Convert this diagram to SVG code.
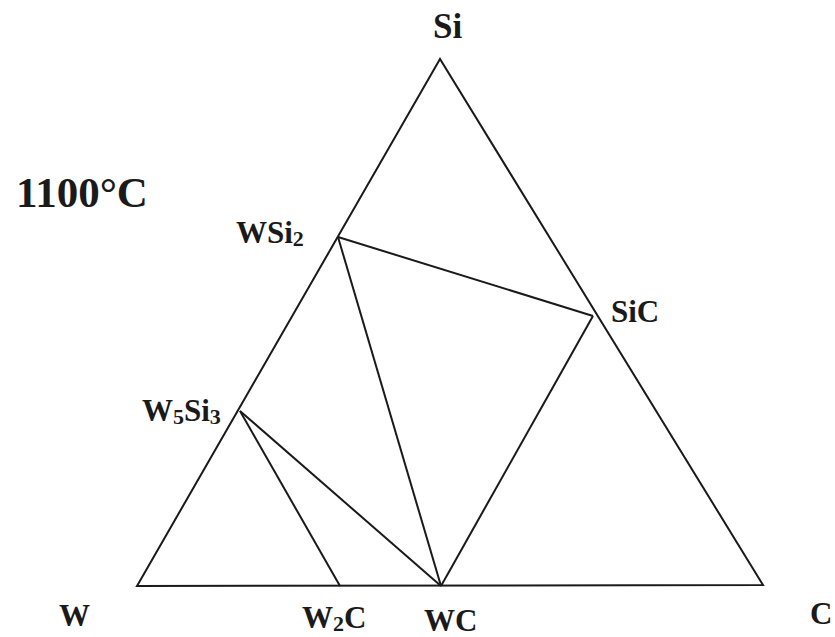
<svg xmlns="http://www.w3.org/2000/svg" width="835" height="637" viewBox="0 0 835 637">
<style>
.l{stroke:#1a1a1a;stroke-width:2;fill:none;stroke-linejoin:miter}
.t{font-family:"Liberation Serif","Times New Roman",serif;font-weight:bold;fill:#1a1a1a;font-size:31px}
.s{font-size:22px}
</style>
<rect width="835" height="637" fill="#fff"/>
<g id="connectors">
<polygon class="l" points="440,59 137,586 763,585"/>
<line class="l" x1="338" y1="237" x2="593" y2="316"/>
<line class="l" x1="338" y1="237" x2="441" y2="586"/>
<line class="l" x1="593" y1="316" x2="441" y2="586"/>
<line class="l" x1="240" y1="411" x2="441" y2="586"/>
<line class="l" x1="240" y1="411" x2="340" y2="586"/>
</g>
<g id="title"><text class="t" x="16" y="207" style="font-size:43px">1100°C</text></g>
<g id="Si"><text class="t" x="433" y="38" style="font-size:35px">Si</text></g>
<g id="WSi2"><text class="t" x="236" y="243">WSi<tspan class="s" dy="3">2</tspan></text></g>
<g id="SiC"><text class="t" x="611" y="322">SiC</text></g>
<g id="W5Si3"><text class="t" x="142" y="421">W<tspan class="s" dy="3">5</tspan><tspan dy="-3">Si</tspan><tspan class="s" dy="3">3</tspan></text></g>
<g id="W"><text class="t" x="59" y="626">W</text></g>
<g id="W2C"><text class="t" x="302" y="628">W<tspan class="s" dy="3">2</tspan><tspan dy="-3">C</tspan></text></g>
<g id="WC"><text class="t" x="424" y="631">WC</text></g>
<g id="C"><text class="t" x="810" y="624">C</text></g>
</svg>
